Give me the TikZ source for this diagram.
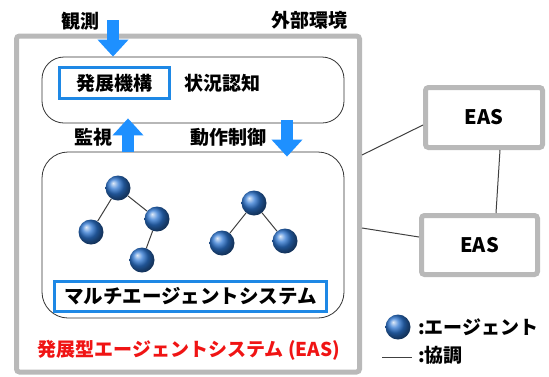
\documentclass[tikz,border=0pt]{standalone}
\usepackage{fontspec}
\setmainfont{Noto Sans CJK JP}
\usetikzlibrary{arrows.meta,calc}
\definecolor{arrowblue}{RGB}{30,144,255}
\definecolor{boxblue}{RGB}{30,136,229}
\definecolor{agentblue}{RGB}{45,118,210}
\definecolor{easred}{RGB}{240,20,20}
\definecolor{frame}{RGB}{185,185,185}
\tikzset{
  lbl/.style={font=\bfseries\fontsize{19}{22}\selectfont, inner sep=0pt},
  outerframe/.style={draw=frame, line width=5pt, rounded corners=3pt, fill=white},
  roundbox/.style={draw=black!80, line width=0.8pt, rounded corners=22pt},
  bluebox/.style={draw=boxblue, line width=2.5pt, fill=white, inner sep=0pt},
  agent/.style={circle, minimum size=25pt, inner sep=0pt, shading=ball, ball color=agentblue},
  link/.style={draw=black!75, line width=1pt},
  blockarrow/.style={draw=arrowblue, line width=12pt, -{Triangle[width=30pt,length=17pt]}},
}
\begin{document}
\begin{tikzpicture}[x=1pt,y=-1pt]
\useasboundingbox (0,0) rectangle (549,376);
% outer EAS frame
\node[outerframe, minimum width=343pt, minimum height=336pt] (eas) at (188,204) {};
% inner boxes
\node[roundbox, minimum width=302pt, minimum height=66pt] (top) at (193,90) {};
\node[roundbox, minimum width=302pt, minimum height=166pt, rounded corners=26pt] (bot) at (193,235) {};
\node[bluebox, minimum width=110pt, minimum height=31pt] (mech) at (114.5,83) {\fontsize{19}{22}\selectfont\bfseries 発展機構};
\node[lbl] (sit) at (222,83) {状況認知};
\node[bluebox, minimum width=272pt, minimum height=30pt] (mas) at (190.5,296.5) {\fontsize{19.5}{22}\selectfont\bfseries マルチエージェントシステム};
\node[lbl, text=easred] (title) at (189,350) {発展型エージェントシステム (EAS)};
% labels
\node[lbl] (obsl) at (80,21) {観測};
\node[lbl] (env) at (309,20) {外部環境};
\node[lbl] (mon) at (93,137) {監視};
\node[lbl] (act) at (228,137) {動作制御};
% block arrows
\coordinate (obs) at (113,20);
\draw[blockarrow] (obs) -- (obs |- top.north);
\draw[blockarrow] (bot.north -| 128,0) -- ([yshift=5pt]top.south -| 128,0);
\draw[blockarrow] ([yshift=3pt]top.south -| 287,0) -- ([yshift=-5pt]bot.north -| 287,0);
% agents
\node[agent] (a1) at (118,188) {};
\node[agent] (a2) at (91,232) {};
\node[agent] (a3) at (157,219) {};
\node[agent] (a4) at (142,260) {};
\node[agent] (b1) at (254,203) {};
\node[agent] (b2) at (222,243) {};
\node[agent] (b3) at (285,241) {};
\draw[link] (a1) -- (a2);
\draw[link] (a1) -- (a3);
\draw[link] (a3) -- (a4);
\draw[link] (b1) -- (b2);
\draw[link] (b1) -- (b3);
% other EAS
\node[outerframe, minimum width=117pt, minimum height=60pt] (e1) at (484,117.5) {};
\node[lbl] at (e1) {\fontsize{20}{22}\selectfont EAS};
\node[outerframe, minimum width=116pt, minimum height=59pt] (e2) at (479.5,245) {};
\node[lbl] at (e2) {\fontsize{20}{22}\selectfont EAS};
\draw[link] (eas.east |- 0,155) -- (e1.west |- 0,125);
\draw[link] (eas.east |- 0,228) -- (e2.west |- 0,237);
\draw[link] (e1.south -| 500,0) -- (e2.north -| 496,0);
% legend
\node[agent] (lg) at (398,327) {};
\node[lbl, anchor=west] (lgt) at (418,327) {:エージェント};
\coordinate (l1) at (382,357);
\coordinate (l2) at (412,357);
\draw[link] (l1) -- (l2);
\node[lbl, anchor=west] (lgc) at (418,355) {:協調};
\end{tikzpicture}
\end{document}
